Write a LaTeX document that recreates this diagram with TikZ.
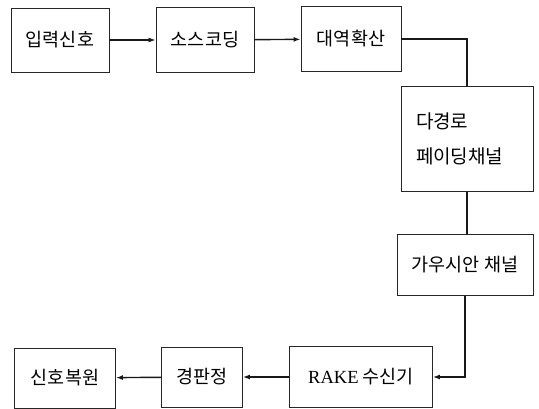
\documentclass[tikz,border=0pt]{standalone}
\usepackage{fontspec}
\newfontfamily\cjk{Noto Sans CJK KR}
\usetikzlibrary{arrows.meta}
\begin{document}
\begin{tikzpicture}[x=1pt,y=-1pt,
  blk/.style={draw=black!85, line width=0.8pt, inner sep=0pt, font=\cjk\fontsize{18.5}{22}\selectfont},
  conn/.style={line width=1.4pt, black!90},
  arr/.style={conn, -{Latex[length=7pt,width=5pt]}}]
\useasboundingbox (0,0) rectangle (539,409);
\node[blk, minimum width=98pt, minimum height=64pt] (in) at (60,40) {입력신호};
\node[blk, minimum width=98pt, minimum height=65pt] (src) at (205,40) {소스코딩};
\node[blk, minimum width=100pt, minimum height=65pt] (spr) at (351,39) {대역확산};
\node[blk, minimum width=132pt, minimum height=105pt, text width=102pt, align=left, font=\cjk\fontsize{19}{35}\selectfont] (fad) at (467,139) {다경로\\페이딩채널};
\node[blk, minimum width=136pt, minimum height=61pt] (gau) at (465,265) {가우시안 채널};
\node[blk, minimum width=143pt, minimum height=61pt] (rake) at (361,377) {{\fontspec{Liberation Serif}RAKE} 수신기};
\node[blk, minimum width=81pt, minimum height=60pt] (dec) at (202,377) {경판정};
\node[blk, minimum width=101pt, minimum height=60pt] (out) at (65,378) {신호복원};
\draw[arr] (in) -- (src);
\draw[arr] (src) -- (spr);
\draw[conn] (spr.east) -| (fad.north);
\draw[conn] (fad.south) -- (fad.south |- gau.north);
\draw[arr] (gau.south) |- (rake.east);
\draw[arr] (rake) -- (dec);
\draw[arr] (dec) -- (out);
\end{tikzpicture}
\end{document}
